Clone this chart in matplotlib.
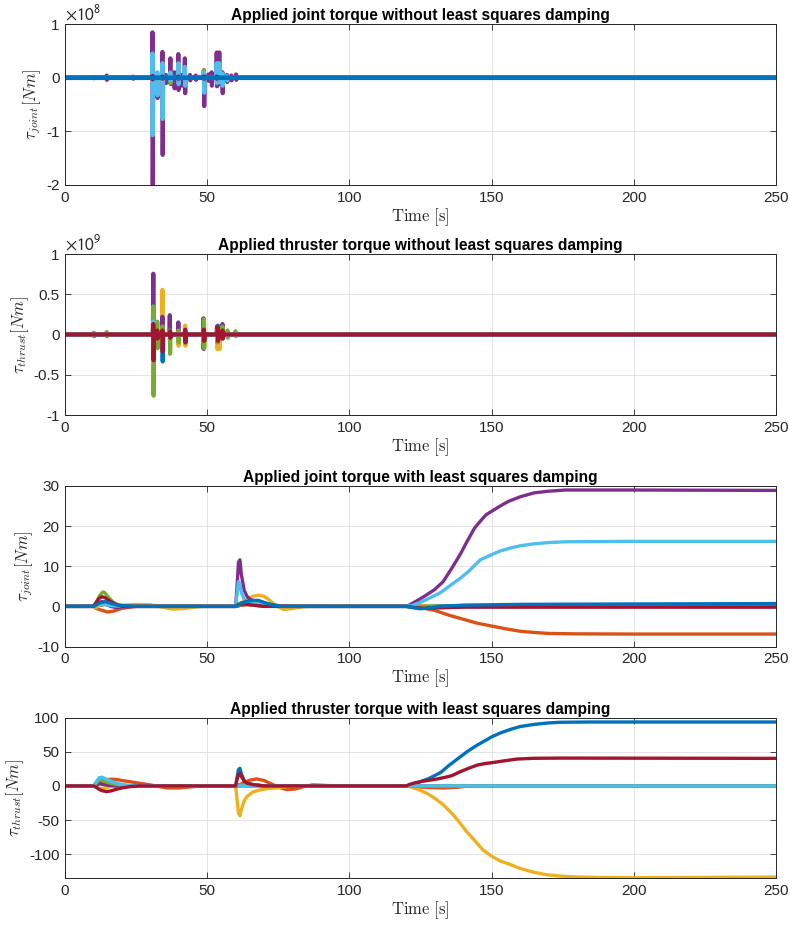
import numpy as np
import matplotlib
matplotlib.use("Agg")
import matplotlib.pyplot as plt
from matplotlib.ticker import FuncFormatter

plt.rcParams['font.family'] = ['Liberation Sans', 'DejaVu Sans']
plt.rcParams['mathtext.fontset'] = 'cm'
plt.rcParams['axes.unicode_minus'] = False

# MATLAB default colour order
BLUE, ORANGE, YELLOW, PURPLE, GREEN, LBLUE, RED = (
    '#0072BD', '#D95319', '#EDB120', '#7E2F8E', '#77AC30', '#4DBEEE', '#A2142F')
INK = '#262626'
T_END = 250

# ---------------------------------------------------------------------------
# Joint torque without damping: spikes given as (time, peak high, peak low) [Nm]
jnd_purple_t = [10.2, 14.7, 24.0, 30.8, 32.5, 34.3, 35.5, 37.1, 38.5, 39.9, 41.0, 42.2,
                44.0, 46.0, 48.9, 50.5, 51.6, 53.4, 54.3, 55.4, 57.0, 58.5, 60.2]
jnd_purple_hi = [0.01e8, 0.04e8, 0.02e8, 0.845e8, 0.05e8, 0.48e8, 0.05e8, 0.36e8, 0.10e8, 0.44e8,
                 0.05e8, 0.36e8, 0.05e8, 0.04e8, 0.14e8, 0.06e8, 0.10e8, 0.47e8, 0.47e8, 0.10e8,
                 0.05e8, 0.04e8, 0.06e8]
jnd_purple_lo = [-0.01e8, -0.04e8, -0.02e8, -2.1e8, -0.38e8, -1.44e8, -0.10e8, -0.12e8, -0.20e8,
                 -0.23e8, -0.15e8, -0.29e8, -0.05e8, -0.04e8, -0.53e8, -0.06e8, -0.15e8, -0.16e8,
                 -0.12e8, -0.29e8, -0.08e8, -0.05e8, -0.04e8]
jnd_lblue_t = [30.8, 32.5, 34.3, 37.1, 39.9, 42.2, 48.9, 53.4, 54.3, 55.4, 57.0]
jnd_lblue_hi = [0.45e8, 0.10e8, 0.27e8, 0.10e8, 0.27e8, 0.20e8, 0.10e8, 0.27e8, 0.27e8, 0.08e8, 0.03e8]
jnd_lblue_lo = [-1.07e8, -0.33e8, -0.77e8, -0.05e8, -0.12e8, -0.15e8, -0.28e8, -0.10e8, -0.08e8,
                -0.15e8, -0.05e8]
jnd_green_t = [32.5, 37.1, 48.9]
jnd_green_hi = [0.09e8, 0.02e8, 0.14e8]
jnd_green_lo = [-0.03e8, -0.10e8, -0.02e8]
jnd_small_t = [30.8, 34.3, 39.9, 48.9, 53.4]
jnd_small_hi = [0.03e8, 0.02e8, 0.02e8, 0.02e8, 0.02e8]
jnd_small_lo = [-0.03e8, -0.02e8, -0.02e8, -0.02e8, -0.02e8]

# Thruster torque without damping
tnd_purple_t = [10.2, 14.7, 31.1, 32.5, 34.3, 36.9, 39.9, 42.3, 48.7, 53.5, 55.4]
tnd_purple_hi = [0.02e9, 0.02e9, 0.755e9, 0.05e9, 0.22e9, 0.24e9, 0.15e9, 0.05e9, 0.20e9, 0.10e9, 0.13e9]
tnd_purple_lo = [-0.02e9, -0.02e9, -0.05e9, -0.16e9, -0.05e9, -0.05e9, -0.03e9, -0.05e9, -0.18e9,
                 -0.05e9, -0.05e9]
tnd_green_t = [10.2, 14.7, 31.1, 32.5, 34.3, 36.9, 39.9, 42.3, 48.9, 53.5, 55.4, 57.2, 60.0]
tnd_green_hi = [0.02e9, 0.03e9, 0.35e9, 0.16e9, 0.10e9, 0.05e9, 0.05e9, 0.05e9, 0.19e9, 0.05e9,
                0.10e9, 0.05e9, 0.04e9]
tnd_green_lo = [-0.02e9, -0.02e9, -0.76e9, -0.17e9, -0.10e9, -0.24e9, -0.10e9, -0.08e9, -0.17e9,
                -0.10e9, -0.05e9, -0.04e9, -0.02e9]
tnd_yellow_t = [34.3, 39.9, 42.3, 48.9, 53.5, 54.3]
tnd_yellow_hi = [0.555e9, 0.05e9, 0.11e9, 0.20e9, 0.05e9, 0.05e9]
tnd_yellow_lo = [-0.10e9, -0.14e9, -0.14e9, -0.05e9, -0.18e9, -0.18e9]
tnd_blue_t = [31.1, 34.3, 53.8]
tnd_blue_hi = [0.16e9, 0.05e9, 0.11e9]
tnd_blue_lo = [-0.05e9, -0.335e9, -0.05e9]
tnd_lblue_t = [31.1]
tnd_lblue_hi = [0.16e9]
tnd_lblue_lo = [-0.05e9]
tnd_orange_t = [31.1, 34.3]
tnd_orange_hi = [0.05e9, 0.05e9]
tnd_orange_lo = [-0.05e9, -0.05e9]
tnd_red_t = [31.1, 32.5, 34.3, 37.0, 42.3, 48.9, 53.8, 55.4]
tnd_red_hi = [0.13e9, 0.05e9, 0.05e9, 0.04e9, 0.06e9, 0.06e9, 0.08e9, 0.05e9]
tnd_red_lo = [-0.32e9, -0.05e9, -0.21e9, -0.04e9, -0.10e9, -0.08e9, -0.08e9, -0.05e9]

# ---------------------------------------------------------------------------
# Joint torque with damping [Nm]
jd_blue1_t = [0, 10, 14, 20, 60, 64, 70, 120, 140, 250]
jd_blue1_v = [0, 0, 0.5, 0, 0, 0.6, 0, 0, 0.2, 0.4]
jd_orange_t = [0, 10, 11, 13, 15, 17, 20, 25, 60, 62, 65, 70, 80, 120, 125, 130, 135, 140, 145,
               150, 155, 160, 165, 170, 180, 200, 250]
jd_orange_v = [0, 0, -0.5, -1.0, -1.4, -1.2, -0.5, 0, 0, 0.3, 0.5, 0.2, 0, 0, -0.3, -1.0, -2.2,
               -3.2, -4.2, -4.9, -5.6, -6.2, -6.5, -6.75, -6.85, -6.9, -6.9]
jd_yellow_t = [0, 10, 11, 12, 14, 16, 20, 25, 30, 35, 38, 42, 50, 60, 61, 62, 64, 66, 68, 70, 72,
               74, 77, 80, 85, 120, 125, 130, 250]
jd_yellow_v = [0, 0, -0.3, 0.3, 0.6, 0.3, 0.3, 0.5, 0.4, -0.3, -0.7, -0.5, 0.2, 0, 0.3, 0.8, 1.8,
               2.5, 2.8, 2.5, 1.5, 0.2, -0.8, -0.5, 0, 0, 0.2, 0, 0]
jd_purple_t = [0, 10, 11, 12, 13, 14, 16, 18, 20, 25, 60, 60.5, 61, 61.5, 62, 63, 64, 65, 67, 70,
               75, 80, 120, 121, 124, 127, 130, 133, 136, 139, 141, 144, 146, 148, 150, 153, 156,
               160, 165, 170, 176, 200, 250]
jd_purple_v = [0, 0, 0.3, 1.0, 1.2, 0.8, 0, -0.3, -0.1, 0, 0, 5, 11, 11.6, 8, 4, 2.5, 1.8, 1.2, 0.8,
               0.2, 0, 0, 0.3, 1.5, 2.8, 4.2, 6.2, 9.5, 13, 15.7, 19.5, 21.2, 22.8, 23.7, 25, 26.2,
               27.3, 28.3, 28.7, 29, 29, 28.9]
jd_green_t = [0, 10, 11, 12, 13, 13.5, 14, 15, 17, 19, 22, 25, 60, 61, 62, 63, 65, 68, 70, 75, 250]
jd_green_v = [0, 0, 1, 2.5, 3.4, 3.6, 3.4, 2.5, 1, 0.3, 0, 0, 0, 0.5, 1.0, 0.8, 0.4, 0.2, 0, 0, 0]
jd_lblue_t = [0, 10, 12, 14, 16, 20, 60, 60.5, 61, 61.5, 62, 63, 64, 66, 68, 70, 75, 120, 122, 125,
              128, 132, 136, 139, 142, 146, 150, 153, 157, 160, 165, 170, 176, 200, 250]
jd_lblue_v = [0, 0, 0.8, 0.5, 0.2, 0, 0, 3, 6.2, 5.5, 3.5, 1.8, 1.2, 1, 0.8, 0.5, 0, 0, 0.2, 1, 2,
              3.4, 5.5, 7, 8.8, 11.6, 12.9, 13.8, 14.6, 15.1, 15.6, 15.9, 16.1, 16.2, 16.2]
jd_red_t = [0, 10, 11, 12, 13, 14, 16, 18, 20, 25, 60, 61, 63, 65, 70, 120, 123, 126, 130, 140, 250]
jd_red_v = [0, 0, 1, 2, 2.4, 2.2, 1.2, 0.5, 0, 0, 0, 0.5, 0.6, 0.4, 0, 0, -0.3, -0.5, -0.4, -0.2, -0.2]
jd_blue_t = [0, 10, 12, 14, 16, 18, 20, 25, 60, 61, 62, 64, 66, 68, 70, 73, 76, 120, 122, 125, 128,
             132, 140, 160, 200, 250]
jd_blue_v = [0, 0, 0.8, 1.2, 0.8, 0.4, 0.2, 0, 0, 0.3, 0.8, 1.3, 1.5, 1.5, 1.0, 0.3, 0, 0, -0.3,
             -0.6, -0.4, 0, 0.3, 0.5, 0.6, 0.7]

# Thruster torque with damping [Nm]
td_blue_t = [0, 10, 12, 14, 16, 20, 60, 60.5, 61, 61.5, 62, 63, 64, 66, 70, 120, 122, 125, 128,
             132, 135, 139, 142, 145, 148, 150, 153, 156.5, 160, 165, 170, 174, 185, 250]
td_blue_v = [0, 0, 3, 2, 1, 0, 0, 12, 24, 25.8, 18, 8, 4, 2, 0, 0, 1.5, 6.3, 11, 19.4, 30, 42.7,
             52, 60, 67, 71.9, 77.5, 82.7, 87, 90.2, 92.3, 93.3, 93.7, 93.7]
td_orange_t = [0, 10, 11, 12, 14, 16, 18, 20, 23, 26, 30, 33, 36, 40, 44, 48, 52, 60, 61, 63, 65,
               67.4, 70, 73, 76, 78, 81, 84, 87, 90, 95, 120, 123, 128, 133, 138, 142, 250]
td_orange_v = [0, 0, 3, 6, 8.5, 9.8, 9.5, 8, 6, 4, 1.5, -1, -3, -3, -1.5, 0, 0, 0, 1, 5, 8.5,
               10.2, 8, 2, -3, -5.5, -4.5, -1, 1.5, 1, 0, 0, -1, -2.5, -3, -2, 0, 0]
td_yellow_t = [0, 10, 11, 12, 13, 14, 16, 20, 60, 60.5, 61, 61.5, 62, 63, 64, 66, 68.6, 71, 74.4,
               80, 120, 121.3, 124, 127.2, 130, 133, 136, 138.9, 141, 144.8, 147, 150, 153, 156.5,
               160, 164.7, 169, 174, 180, 190, 200, 250]
td_yellow_v = [0, 0, -2, -4, -4, -3, -1, 0, 0, -20, -40, -43.7, -35, -22, -15.6, -9, -5.8, -4,
               -2.9, 0, 0, -1, -5, -10.7, -18, -27.7, -40, -54.4, -66, -83.6, -94, -103, -110,
               -115, -121, -126.4, -130, -132.2, -133.6, -134.4, -134.6, -133.7]
td_purple_t = [0, 10, 11, 12, 13, 15, 18, 250]
td_purple_v = [0, 0, 2, 4, 3, 1, 0, 0]
td_green_t = [0, 10, 11, 12, 13, 15, 18, 22, 60, 62, 65, 70, 250]
td_green_v = [0, 0, 4, 8.7, 8, 5, 2, 0, 0, 1.5, 2, 0, 0]
td_lblue_t = [0, 10, 11, 12, 13, 14, 16, 19, 22, 25, 250]
td_lblue_v = [0, 0, 6, 12, 12.7, 11, 7, 3, 1, 0, 0]
td_red_t = [0, 10, 11, 12, 13, 14.6, 16, 18, 20, 23, 26, 60, 60.5, 61, 61.5, 62, 63, 64, 66, 70,
            120, 121, 123, 126, 130, 133, 136, 139, 142, 145, 148, 150, 154, 159, 165, 175, 250]
td_red_v = [0, 0, -2, -5, -7, -8.3, -7.5, -5, -3, -1, 0, 0, 10, 17, 18.5, 14, 7, 4, 2, 0, 0, 2,
            4.5, 7, 9.5, 12, 15, 20.9, 26, 30.6, 33, 34, 36.5, 39.4, 40.5, 40.8, 40.4]

x_ticks = [0, 50, 100, 150, 200, 250]


def spike_path(times, highs, lows):
    """Polyline through a zero baseline with an up/down excursion at each time."""
    xs, ys = [0.0], [0.0]
    for t, hi, lo in zip(times, highs, lows):
        xs += [t - 0.2, t - 0.05, t + 0.05, t + 0.2]
        ys += [0.0, hi, lo, 0.0]
    xs.append(T_END)
    ys.append(0.0)
    return xs, ys


fig = plt.figure(figsize=(7.9, 9.25), dpi=100)
W = 790.0
H = 925.0
left = 65 / W
width = (776 - 65) / W
boxes = [(24, 185), (254, 415), (486, 646.5), (717.7, 878)]
axes = [fig.add_axes([left, 1 - b / H, width, (b - t) / H]) for t, b in boxes]


def style(ax, title, ylabel, ylim, yticks, scale=None, exponent=None):
    ax.set_xlim(0, T_END)
    ax.set_ylim(*ylim)
    ax.set_xticks(x_ticks)
    ax.set_yticks(yticks)
    if scale is not None:
        ax.yaxis.set_major_formatter(FuncFormatter(lambda v, p: f"{v / scale:g}"))
    else:
        ax.yaxis.set_major_formatter(FuncFormatter(lambda v, p: f"{v:g}"))
    ax.grid(True, color='#DFDFDF', linewidth=0.6)
    ax.set_axisbelow(True)
    for s in ax.spines.values():
        s.set_color(INK)
        s.set_linewidth(0.7)
        s.set_zorder(5)
    ax.tick_params(direction='in', length=4, width=0.6, colors=INK, labelsize=11,
                   top=True, right=True, pad=4)
    ax.set_title(title, fontsize=11.2, fontweight='bold', color='black', pad=3)
    ax.set_ylabel(ylabel, fontsize=12, color=INK, labelpad=2)
    ax.set_xlabel(r'$\mathrm{Time\ [s]}$', fontsize=12, color=INK, labelpad=1)
    if exponent is not None:
        ax.text(0.0, 1.006, r'$\times10^{%d}$' % exponent, transform=ax.transAxes,
                fontsize=12.5, color=INK, ha='left', va='bottom', math_fontfamily='stixsans')


# Panel 1 -------------------------------------------------------------------
ax = axes[0]
lw1 = 3.0
for t, hi, lo, c in [(jnd_small_t, jnd_small_hi, jnd_small_lo, BLUE),
                     (jnd_small_t, jnd_small_hi, jnd_small_lo, ORANGE),
                     (jnd_small_t, jnd_small_hi, jnd_small_lo, YELLOW),
                     (jnd_purple_t, jnd_purple_hi, jnd_purple_lo, PURPLE),
                     (jnd_green_t, jnd_green_hi, jnd_green_lo, GREEN),
                     (jnd_lblue_t, jnd_lblue_hi, jnd_lblue_lo, LBLUE),
                     (jnd_small_t, jnd_small_hi, jnd_small_lo, RED),
                     ([], [], [], BLUE)]:
    xs, ys = spike_path(t, hi, lo)
    ax.plot(xs, ys, color=c, lw=lw1, solid_joinstyle='round', solid_capstyle='butt')
style(ax, 'Applied joint torque without least squares damping', r'$\tau_{joint}[Nm]$',
      (-2e8, 1e8), [-2e8, -1e8, 0, 1e8], scale=1e8, exponent=8)

# Panel 2 -------------------------------------------------------------------
ax = axes[1]
for t, hi, lo, c in [(tnd_blue_t, tnd_blue_hi, tnd_blue_lo, BLUE),
                     (tnd_orange_t, tnd_orange_hi, tnd_orange_lo, ORANGE),
                     (tnd_yellow_t, tnd_yellow_hi, tnd_yellow_lo, YELLOW),
                     (tnd_purple_t, tnd_purple_hi, tnd_purple_lo, PURPLE),
                     (tnd_green_t, tnd_green_hi, tnd_green_lo, GREEN),
                     (tnd_lblue_t, tnd_lblue_hi, tnd_lblue_lo, LBLUE),
                     (tnd_red_t, tnd_red_hi, tnd_red_lo, RED)]:
    xs, ys = spike_path(t, hi, lo)
    ax.plot(xs, ys, color=c, lw=lw1, solid_joinstyle='round', solid_capstyle='butt')
style(ax, 'Applied thruster torque without least squares damping', r'$\tau_{thrust}[Nm]$',
      (-1e9, 1e9), [-1e9, -0.5e9, 0, 0.5e9, 1e9], scale=1e9, exponent=9)

# Panel 3 -------------------------------------------------------------------
ax = axes[2]
lw2 = 2.4
for t, v, c in [(jd_blue1_t, jd_blue1_v, BLUE), (jd_orange_t, jd_orange_v, ORANGE),
                (jd_yellow_t, jd_yellow_v, YELLOW), (jd_purple_t, jd_purple_v, PURPLE),
                (jd_green_t, jd_green_v, GREEN), (jd_lblue_t, jd_lblue_v, LBLUE),
                (jd_red_t, jd_red_v, RED), (jd_blue_t, jd_blue_v, BLUE)]:
    ax.plot(t, v, color=c, lw=lw2, solid_joinstyle='round')
style(ax, 'Applied joint torque with least squares damping', r'$\tau_{joint}[Nm]$',
      (-10, 30), [-10, 0, 10, 20, 30])

# Panel 4 -------------------------------------------------------------------
ax = axes[3]
for t, v, c in [(td_blue_t, td_blue_v, BLUE), (td_orange_t, td_orange_v, ORANGE),
                (td_yellow_t, td_yellow_v, YELLOW), (td_purple_t, td_purple_v, PURPLE),
                (td_green_t, td_green_v, GREEN), (td_lblue_t, td_lblue_v, LBLUE),
                (td_red_t, td_red_v, RED)]:
    ax.plot(t, v, color=c, lw=lw2, solid_joinstyle='round')
style(ax, 'Applied thruster torque with least squares damping', r'$\tau_{thrust}[Nm]$',
      (-135, 100), [-100, -50, 0, 50, 100])

fig.savefig('out.png', dpi=100)
